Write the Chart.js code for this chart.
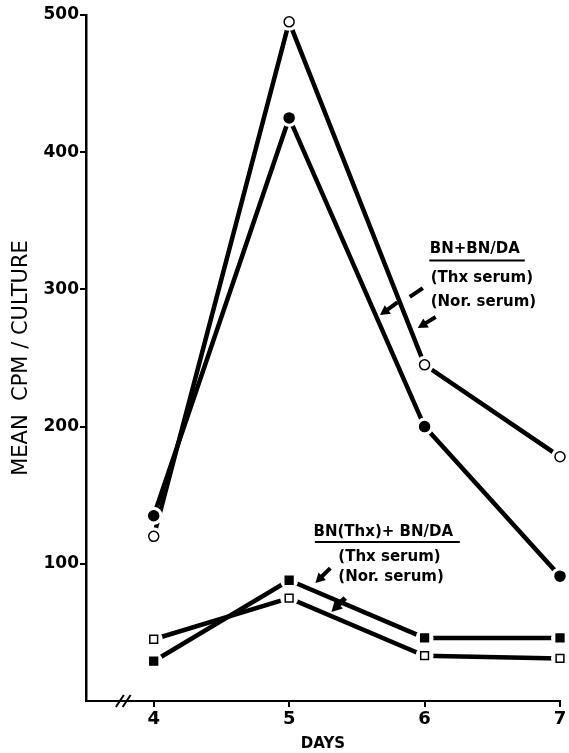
<!DOCTYPE html>
<html lang="en">
<head>
<meta charset="UTF-8">
<title>Mean CPM / Culture</title>
<style>
    body { margin: 0; background: #fff; }
    canvas { display: block; }
</style>
</head>
<body>
<canvas id="cpmChart" width="569" height="753"></canvas>
<script src="https://cdn.jsdelivr.net/npm/chart.js"></script>
<script>
    const days = [4, 5, 6, 7];
    const yTicks = [100, 200, 300, 400, 500];

    // BN+BN/DA
    const openCircles = [120, 495, 245, 178];
    const filledCircles = [135, 425, 200, 91];
    // BN(Thx)+BN/DA
    const filledSquares = [29, 88, 46, 46];
    const openSquares = [45, 75, 33, 31];

    const toPoints = vals => vals.map((v, i) => ({ x: days[i], y: v }));

    function lineSet(vals) {
        return {
            data: toPoints(vals), borderColor: '#000', borderWidth: 4.5,
            pointRadius: 0, fill: false, tension: 0, order: 3
        };
    }
    function haloSet(vals) {
        return {
            data: toPoints(vals), showLine: false, pointRadius: 9,
            pointBackgroundColor: '#fff', pointBorderWidth: 0, order: 2, clip: false
        };
    }
    function markerSet(vals, style, filled) {
        return {
            data: toPoints(vals), showLine: false,
            pointStyle: style, pointRadius: style === 'rect' ? 5.5 : 5,
            pointBackgroundColor: filled ? '#000' : '#fff',
            pointBorderColor: '#000', pointBorderWidth: 1.5, order: 1, clip: false
        };
    }

    // text and arrows placed in data units
    const notes = {
        id: 'notes',
        afterDraw(chart) {
            const ctx = chart.ctx, sx = chart.scales.x, sy = chart.scales.y;
            const px = v => sx.getPixelForValue(v), py = v => sy.getPixelForValue(v);
            ctx.save();
            ctx.fillStyle = '#000';
            ctx.strokeStyle = '#000';
            ctx.font = 'bold 15px "DejaVu Sans"';
            ctx.textBaseline = 'middle';
            ctx.textAlign = 'left';

            function text(s, x, y) { ctx.fillText(s, px(x), py(y)); }
            function rule(x1, x2, y, w) {
                ctx.lineWidth = w || 2;
                ctx.beginPath(); ctx.moveTo(px(x1), py(y)); ctx.lineTo(px(x2), py(y)); ctx.stroke();
            }
            function seg(x1, y1, x2, y2, w) {
                ctx.lineWidth = w;
                ctx.beginPath(); ctx.moveTo(px(x1), py(y1)); ctx.lineTo(px(x2), py(y2)); ctx.stroke();
            }
            function arrow(x1, y1, x2, y2, w, head) {
                const ax = px(x1), ay = py(y1), bx = px(x2), by = py(y2);
                const a = Math.atan2(by - ay, bx - ax);
                const cx = bx - head * 0.8 * Math.cos(a), cy = by - head * 0.8 * Math.sin(a);
                ctx.lineWidth = w;
                ctx.beginPath(); ctx.moveTo(ax, ay); ctx.lineTo(cx, cy); ctx.stroke();
                ctx.beginPath();
                ctx.moveTo(bx, by);
                ctx.lineTo(bx - head * Math.cos(a - 0.5), by - head * Math.sin(a - 0.5));
                ctx.lineTo(bx - head * Math.cos(a + 0.5), by - head * Math.sin(a + 0.5));
                ctx.closePath(); ctx.fill();
            }

            // upper group label
            text('BN+BN/DA', 6.038, 329.4);
            rule(6.035, 6.74, 321.0, 2);
            text('(Thx serum)', 6.045, 308.3);
            text('(Nor. serum)', 6.045, 290.8);
            seg(5.987, 301.0, 5.891, 294.5, 4);
            arrow(5.80, 290.5, 5.671, 281.3, 4, 11);
            arrow(6.082, 279.9, 5.950, 271.9, 4, 11);

            // lower group label
            text('BN(Thx)+ BN/DA', 5.18, 123.2);
            rule(5.19, 6.26, 115.9, 2);
            text('(Thx serum)', 5.363, 105.0);
            text('(Nor. serum)', 5.363, 90.4);
            arrow(5.304, 96.9, 5.194, 86.0, 4, 11);
            arrow(5.414, 75.1, 5.312, 64.9, 5, 12);

            // axis break
            const by = py(0);
            ctx.lineWidth = 2;
            [3.75, 3.80].forEach(v => {
                ctx.beginPath();
                ctx.moveTo(px(v) - 4, by + 6); ctx.lineTo(px(v) + 4, by - 6); ctx.stroke();
            });
            ctx.restore();
        }
    };

    new Chart(document.getElementById('cpmChart'), {
        type: 'line',
        data: {
            datasets: [
                lineSet(openCircles), lineSet(filledCircles),
                lineSet(filledSquares), lineSet(openSquares),
                haloSet(openCircles), haloSet(filledCircles),
                haloSet(filledSquares), haloSet(openSquares),
                markerSet(openCircles, 'circle', false),
                markerSet(filledCircles, 'circle', true),
                markerSet(filledSquares, 'rect', true),
                markerSet(openSquares, 'rect', false)
            ]
        },
        options: {
            responsive: false,
            animation: false,
            layout: { padding: { top: 15, right: 6, left: 9, bottom: 0 } },
            plugins: { legend: { display: false }, tooltip: { enabled: false } },
            scales: {
                x: {
                    type: 'linear', min: 3.5, max: 7,
                    afterBuildTicks: s => { s.ticks = days.map(v => ({ value: v })); },
                    afterFit: s => { s.height = 52; },
                    border: { display: true, color: '#000', width: 2 },
                    grid: { display: true, drawOnChartArea: false, drawTicks: true, tickLength: 6, color: '#000', lineWidth: 2 },
                    ticks: { color: '#000', padding: 2, font: { family: 'DejaVu Sans', size: 18, weight: 'bold' } },
                    title: {
                        display: true, text: 'DAYS', color: '#000',
                        font: { family: 'DejaVu Sans', size: 15, weight: 'bold' }, padding: { top: 0, bottom: 0 }
                    }
                },
                y: {
                    min: 0, max: 500,
                    afterBuildTicks: s => { s.ticks = yTicks.map(v => ({ value: v })); },
                    afterFit: s => { s.width = 77; },
                    border: { display: true, color: '#000', width: 2.5 },
                    grid: { display: true, drawOnChartArea: false, drawTicks: true, tickLength: 6, color: '#000', lineWidth: 2 },
                    ticks: { color: '#000', padding: 1, font: { family: 'DejaVu Sans', size: 17, weight: 'bold' } },
                    title: {
                        display: true, text: 'MEAN  CPM / CULTURE', color: '#000',
                        font: { family: 'DejaVu Sans', size: 21 }, padding: { top: 0, bottom: 0 }
                    }
                }
            }
        },
        plugins: [notes]
    });
</script>
</body>
</html>
